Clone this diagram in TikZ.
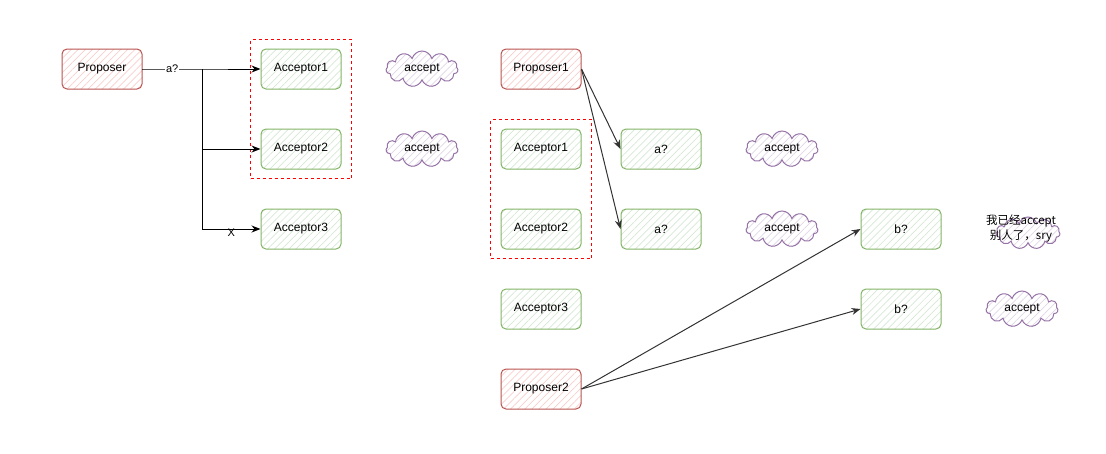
\documentclass[tikz,border=0pt]{standalone}
\usepackage{fontspec}
\setmainfont{Liberation Sans}
\newfontfamily\cjk{Noto Sans CJK SC}
\usetikzlibrary{arrows.meta,patterns.meta,shapes.symbols,fit}
\definecolor{propfill}{HTML}{F8CECC}
\definecolor{propline}{HTML}{B85450}
\definecolor{accfill}{HTML}{D5E8D4}
\definecolor{accline}{HTML}{82B366}
\definecolor{cloudfill}{HTML}{E1D5E7}
\definecolor{cloudline}{HTML}{9673A6}
\definecolor{edgegray}{HTML}{333333}
\tikzset{
  box/.style={draw, line width=1pt, rounded corners=5pt, minimum width=80pt, minimum height=40pt, font=\fontsize{12}{14}\selectfont},
  propbox/.style={box, draw=propline, pattern={Lines[angle=45,distance=5pt,line width=0.7pt]}, pattern color=propfill},
  accbox/.style={box, draw=accline, pattern={Lines[angle=45,distance=5pt,line width=0.7pt]}, pattern color=accfill},
  bubble/.style={cloud, cloud puffs=11, aspect=2, draw=cloudline, line width=1pt, minimum width=72pt, minimum height=36pt, inner sep=0pt, pattern={Lines[angle=45,distance=5pt,line width=0.7pt]}, pattern color=cloudfill, font=\fontsize{12}{14}\selectfont},
  grp/.style={draw=red, dashed, dash pattern=on 3pt off 3pt, line width=1pt, inner xsep=10pt, inner ysep=9pt},
  arr/.style={-{Stealth[length=9pt,width=7pt]}, line width=1pt},
  lbl/.style={fill=white, inner sep=1pt, font=\fontsize{11}{13}\selectfont},
}
\begin{document}
\begin{tikzpicture}[x=1pt,y=-1pt]
  \useasboundingbox (0,0) rectangle (1106,453);
  \node[propbox] (prop) at (102,69) {Proposer};
  \node[accbox] (a1) at (301,69) {Acceptor1};
  \node[accbox] (a2) at (301,149) {Acceptor2};
  \node[accbox] (a3) at (301,229) {Acceptor3};
  \node[grp, fit=(a1)(a2)] (g1) {};
  \coordinate (split) at (202,69);
  \draw[arr] (prop.east) -- node[lbl]{a?} (split) -- (a1.west);
  \draw[arr] (split) |- (a2.west);
  \draw[arr] (split) |- node[pos=0.75, yshift=-4pt, inner sep=0pt, font=\fontsize{11}{13}\selectfont]{X} (a3.west);
  \node[bubble] (ok1) at (422,69) {accept};
  \node[bubble] (ok2) at (422,149) {accept};

  \node[propbox] (prop1) at (541,69) {Proposer1};
  \node[accbox] (b1) at (541,149) {Acceptor1};
  \node[accbox] (b2) at (541,229) {Acceptor2};
  \node[accbox] (b3) at (541,309) {Acceptor3};
  \node[propbox] (prop2) at (541,389) {Proposer2};
  \node[grp, fit=(b1)(b2)] (g2) {};
  \node[accbox] (qa1) at (661,149) {a?};
  \node[accbox] (qa2) at (661,229) {a?};
  \node[bubble] (ok3) at (782,149) {accept};
  \node[bubble] (ok4) at (782,229) {accept};
  \node[accbox] (qb1) at (901,229) {b?};
  \node[accbox] (qb2) at (901,309) {b?};
  \node[bubble, minimum width=64pt, minimum height=32pt] (no) at (1028,233) {};
  \node[align=center, inner sep=0pt, font=\cjk\fontsize{11.5}{15}\selectfont] (notxt) at (1021,229) {我已经accept\\别人了，sry};
  \node[bubble] (ok5) at (1022,309) {accept};
  \draw[arr, edgegray] (prop1.east) -- (qa1.west);
  \draw[arr, edgegray] (prop1.east) -- (qa2.west);
  \draw[arr, edgegray] (prop2.east) -- (qb1.west);
  \draw[arr, edgegray] (prop2.east) -- (qb2.west);
\end{tikzpicture}
\end{document}
